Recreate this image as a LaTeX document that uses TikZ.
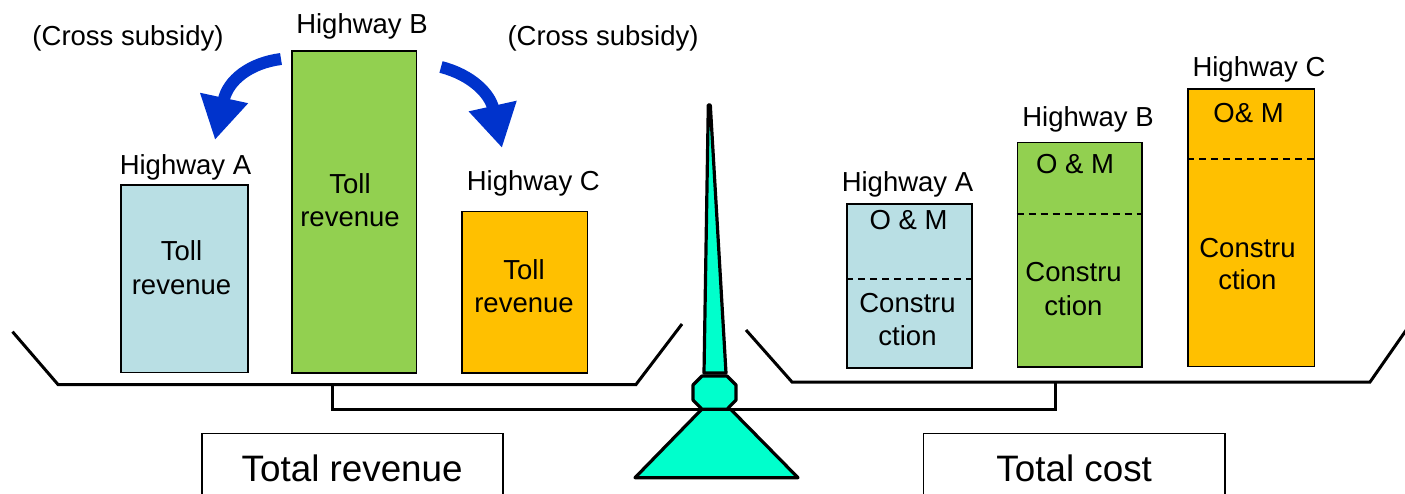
\documentclass[tikz,border=0pt]{standalone}
\usepackage{fontspec}
\setmainfont{Liberation Sans}
\usetikzlibrary{arrows.meta}

\definecolor{paleblue}{RGB}{185,223,228}
\definecolor{leafgreen}{RGB}{146,208,80}
\definecolor{amber}{RGB}{255,192,0}
\definecolor{aqua}{RGB}{0,255,204}
\definecolor{royal}{RGB}{0,51,204}

\newcommand\labsize{\fontsize{27.5}{33}\selectfont}
\newcommand\totsize{\fontsize{36.8}{44}\selectfont}

\begin{document}
\begin{tikzpicture}[x=1pt,y=-1pt,
  bar/.style={draw=black, line width=1.8pt, inner sep=0pt},
  txt/.style={font=\labsize, inner sep=0pt, anchor=base},
  tot/.style={draw=black, line width=1.6pt, inner sep=0pt, font=\totsize,
              minimum height=70pt},
  split/.style={line width=1.5pt, dash pattern=on 7pt off 5pt},
  pan/.style={line width=3pt, line join=miter},
  scalepart/.style={draw=black, fill=aqua, line width=3.2pt, line join=round},
  flow/.style={draw=royal, line width=12pt,
               -{Triangle[length=43pt,width=46pt]}}]

\useasboundingbox (0,0) rectangle (1405,494);
\clip (0,0) rectangle (1405,494);

% ---------- revenue side ----------
\node[bar, fill=paleblue,  minimum width=127pt,   minimum height=187.5pt] (lA) at (184.5,278.75) {};
\node[bar, fill=leafgreen, minimum width=124.5pt, minimum height=322pt]   (lB) at (354.25,212) {};
\node[bar, fill=amber,     minimum width=125.5pt, minimum height=161.5pt] (lC) at (524.75,292.25) {};

\node[txt] (lAname) at (185.5,174.3) {Highway A};
\node[txt] (lBname) at (362,33.3)    {Highway B};
\node[txt] (lCname) at (533.3,190.7) {Highway C};

\node[txt] (lA1) at (181.5,260.7) {Toll};
\node[txt] (lA2) at (181.5,294.3) {revenue};
\node[txt] (lB1) at (350,194)     {Toll};
\node[txt] (lB2) at (350,226.7)   {revenue};
\node[txt] (lC1) at (524,279.3)   {Toll};
\node[txt] (lC2) at (524,312.7)   {revenue};

\node[txt] (subL) at (128,46)  {(Cross subsidy)};
\node[txt] (subR) at (603,46)  {(Cross subsidy)};

% cross-subsidy arrows out of Highway B
\coordinate (fromBL) at (281,59);
\coordinate (toA)    at (215,140);
\coordinate (fromBR) at (441,67);
\coordinate (toC)    at (502,148);
\draw[flow] (fromBL) .. controls (250,63) and (228,80) .. (toA);
\draw[flow] (fromBR) .. controls (472,75) and (490,94) .. (toC);

% ---------- cost side ----------
\node[bar, fill=paleblue,  minimum width=125pt,   minimum height=164pt]   (rA) at (909.5,286) {};
\node[bar, fill=leafgreen, minimum width=124.5pt, minimum height=224.2pt] (rB) at (1079.75,254.6) {};
\node[bar, fill=amber,     minimum width=126.5pt, minimum height=277.5pt] (rC) at (1251.25,227.75) {};

\coordinate (cutA) at (0,279);
\coordinate (cutB) at (0,214);
\coordinate (cutC) at (0,159);
\draw[split] (rA.west |- cutA) -- (rA.east |- cutA);
\draw[split] (rB.west |- cutB) -- (rB.east |- cutB);
\draw[split] (rC.west |- cutC) -- (rC.east |- cutC);

\node[txt] (rAname) at (907.5,191.7) {Highway A};
\node[txt] (rBname) at (1088,126.7)  {Highway B};
\node[txt] (rCname) at (1259,77)     {Highway C};

\node[txt] (rA1) at (908.6,229.3)  {O \& M};
\node[txt] (rA2) at (907.5,312.7)  {Constru};
\node[txt] (rA3) at (907.5,345)    {ction};
\node[txt] (rB1) at (1075,173.3)   {O \& M};
\node[txt] (rB2) at (1073.6,281.7) {Constru};
\node[txt] (rB3) at (1073.4,316)   {ction};
\node[txt] (rC1) at (1248.6,122.3) {O\& M};
\node[txt] (rC2) at (1247.5,257.3) {Constru};
\node[txt] (rC3) at (1247.3,290)   {ction};

% ---------- the balance ----------
\coordinate (panLa) at (12.5,331.7);
\coordinate (panLb) at (58,384.5);
\coordinate (panLc) at (636,384.5);
\coordinate (panLd) at (682,324);
\coordinate (panRa) at (746,330);
\coordinate (panRb) at (792,382);
\coordinate (panRc) at (1370,382);
\coordinate (panRd) at (1416,316);
\draw[pan] (panLa) -- (panLb) -- (panLc) -- (panLd);
\draw[pan] (panRa) -- (panRb) -- (panRc) -- (panRd);

\coordinate (hangL) at (332.5,384.5);
\coordinate (hangR) at (1055,382);
\coordinate (beamL) at (332.5,409.5);
\coordinate (beamR) at (1055,409.5);
\draw[pan] (hangL) -- (beamL) -- (beamR) -- (hangR);

\draw[scalepart] (635,477.7) -- (701.7,409.3) -- (730.7,409.3) -- (798,477.7) -- cycle;
\draw[scalepart] (702,376) -- (727,376) -- (736,385) -- (736,400) -- (727,409.3)
                 -- (702,409.3) -- (693,400) -- (693,385) -- cycle;
\draw[scalepart] (708.3,105) -- (710.3,105) -- (726,373) -- (704,373) -- cycle;

% ---------- totals ----------
\node[tot, minimum width=301pt]   (trev)  at (352.2,468.3)  {Total revenue};
\node[tot, minimum width=301.7pt] (tcost) at (1074.2,468.3) {Total cost};

\end{tikzpicture}
\end{document}
